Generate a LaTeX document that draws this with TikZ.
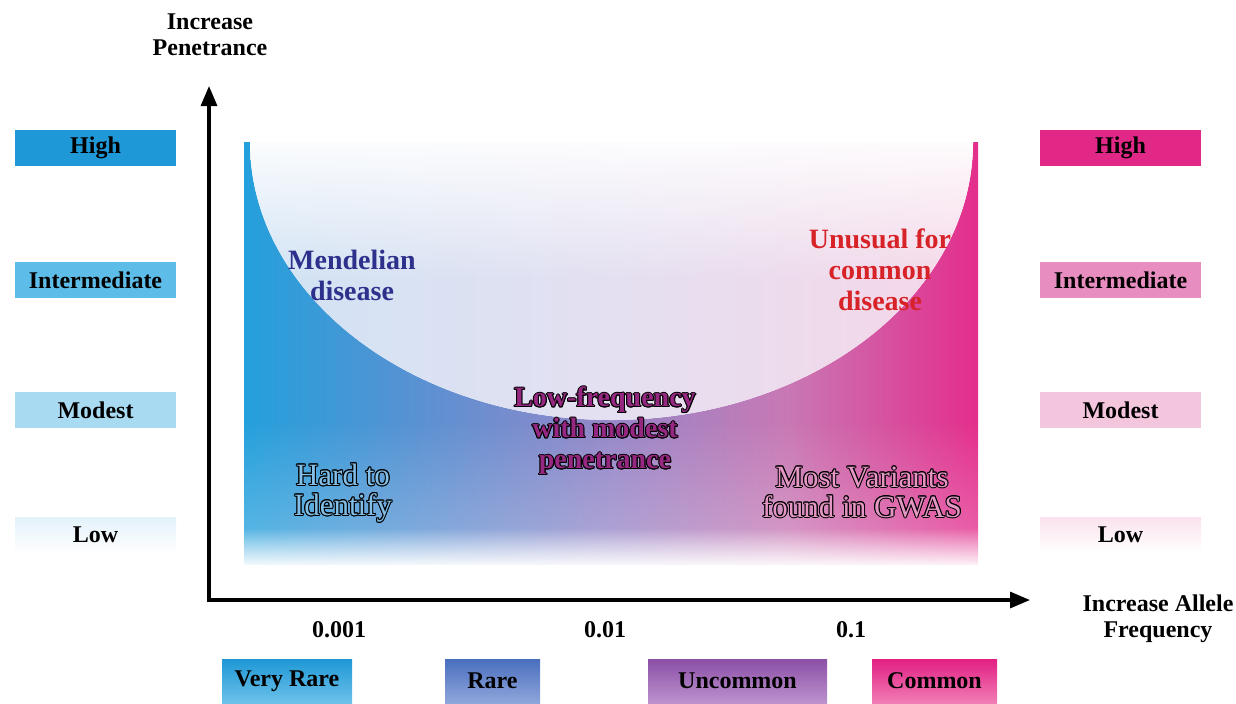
\documentclass[tikz,border=0pt]{standalone}
\usepackage{fontspec}
\setmainfont{Liberation Serif}
\usetikzlibrary{
  calc, % For the outline offsets
  arrows.meta, % For arrow tips
  fadings % For the white fades
}

% Farben
\definecolor{hiblue}{RGB}{30,152,214}
\definecolor{midblue}{RGB}{93,189,232}
\definecolor{modblue}{RGB}{168,218,241}
\definecolor{lowblue}{RGB}{226,242,250}
\definecolor{himag}{RGB}{226,40,135}
\definecolor{midmag}{RGB}{232,141,192}
\definecolor{modmag}{RGB}{244,198,222}
\definecolor{lowmag}{RGB}{251,226,238}
\definecolor{fA}{RGB}{35,160,220}
\definecolor{fB}{RGB}{90,145,210}
\definecolor{fC}{RGB}{150,135,200}
\definecolor{fD}{RGB}{200,120,180}
\definecolor{fE}{RGB}{228,45,140}
\definecolor{bowlL}{RGB}{208,227,244}
\definecolor{bowlM}{RGB}{228,224,241}
\definecolor{bowlR}{RGB}{246,214,231}
\definecolor{navy}{RGB}{46,49,140}
\definecolor{redtxt}{RGB}{215,35,40}
\definecolor{lfcol}{RGB}{150,40,130}
\definecolor{hardfill}{RGB}{130,190,230}
\definecolor{gwasfill}{RGB}{228,150,196}
\definecolor{vrtop}{RGB}{31,151,213}
\definecolor{vrbot}{RGB}{108,194,234}
\definecolor{rtop}{RGB}{74,111,191}
\definecolor{rbot}{RGB}{143,166,218}
\definecolor{utop}{RGB}{140,79,166}
\definecolor{ubot}{RGB}{188,146,206}
\definecolor{ctop}{RGB}{226,31,131}
\definecolor{cbot}{RGB}{241,125,182}

\pgfdeclarehorizontalshading{freqshade}{100bp}{color(0bp)=(fA); color(25bp)=(fA);
  color(37bp)=(fB); color(50bp)=(fC); color(62bp)=(fD); color(75bp)=(fE); color(100bp)=(fE)}
\pgfdeclarehorizontalshading{bowlshade}{100bp}{color(0bp)=(bowlL); color(25bp)=(bowlL);
  color(50bp)=(bowlM); color(75bp)=(bowlR); color(100bp)=(bowlR)}

% Text mit dunklem Rand
\newcommand{\ringtext}[5]{%
  \foreach \ang in {0,30,...,330}
    \node[ring, #4] at ($(#2)+(\ang:0.5pt)$) {#5};
  \node[ring, #4, text=#3] (#1) at (#2) {#5};
}

\begin{document}
\begin{tikzpicture}[
      x=0.5pt, y=-0.5pt, % Pixel grid of the reference
      >={Triangle[length=10pt, width=8pt]}, % Default arrow tip
      axis/.style={line width=1.6pt, <->}, % Style for the two axes
      lvlbox/.style={minimum width=80.5pt, minimum height=18pt, inner sep=0pt,
        font=\bfseries\fontsize{12}{12}\selectfont},
      catbox/.style={minimum height=22pt, inner sep=0pt,
        font=\bfseries\fontsize{12}{12}\selectfont},
      lbl/.style={font=\bfseries\fontsize{12}{13}\selectfont, align=center},
      zone/.style={font=\bfseries\fontsize{14}{15.5}\selectfont, align=center},
      ring/.style={font=\fontsize{15.5}{15}\selectfont, align=center, text=black, inner sep=0pt},
    ]

    \useasboundingbox (0,0) rectangle (1236,703);

    % Koordinaten der Achsen
    \coordinate (O) at (209,600);
    \coordinate (ytip) at (209,86);
    \coordinate (xtip) at (1030,600);

    % Farbige Fläche unter der Kurve
    \shade[shading=freqshade] (244,142) -- (250,142)
      .. controls (250,295.5) and (411.8,420) .. (611.5,420)
      .. controls (811.2,420) and (973,295.5) .. (973,142)
      -- (978,142) -- (978,565) -- (244,565) -- cycle;

    % Helle Schale, oben weiss
    \begin{scope}
      \clip (250,142)
        .. controls (250,295.5) and (411.8,420) .. (611.5,420)
        .. controls (811.2,420) and (973,295.5) .. (973,142) -- cycle;
      \shade[shading=bowlshade] (250,130) rectangle (973,425);
      \fill[white, path fading=south] (240,130) rectangle (985,280);
    \end{scope}

    % Ausblenden nach unten
    \fill[white, fill opacity=0.3, path fading=north] (238,420) rectangle (984,568);
    \fill[white, path fading=north] (238,528) rectangle (984,568);

    % Achsen
    \draw[axis] (ytip) -- (O) -- (xtip);
    \node[lbl] (ylab) at (210,35) {Increase\\Penetrance};
    \node[lbl] (xlab) at (1158,619) {Increase Allele\\Frequency};

    % Penetranz-Stufen links und rechts
    \foreach \lab/\py/\cl/\cr in {High/147.5/hiblue/himag,
        Intermediate/280/midblue/midmag, Modest/410/modblue/modmag}{
      \node[lvlbox, fill=\cl] (L\lab) at (95.5,\py) {\lab};
      \node[lvlbox, fill=\cr] (R\lab) at (1120.5,\py) {\lab};
    }
    \node[lvlbox, top color=lowblue, bottom color=white] (LLow) at (95.5,535) {Low};
    \node[lvlbox, top color=lowmag, bottom color=white] (RLow) at (1120.5,535) {Low};

    % Frequenzwerte
    \foreach \px/\t/\nm in {339/0.001/ta, 605/0.01/tb, 851/0.1/tc}
    \node[lbl] (\nm) at (\px,630) {\t};

    % Frequenzklassen
    \foreach \nm/\lab/\px/\bw/\ct/\cb in {vrare/Very Rare/287/130/vrtop/vrbot,
        rare/Rare/492.5/95/rtop/rbot, uncommon/Uncommon/737.5/179/utop/ubot,
        common/Common/934.5/125/ctop/cbot}
    \node[catbox, minimum width=\bw*0.5pt, top color=\ct, bottom color=\cb] (\nm) at (\px,681) {\lab};

    % Beschriftung der Bereiche
    \node[zone, text=navy] (mendel) at (352,275) {Mendelian\\disease};
    \node[zone, text=redtxt] (unusual) at (880,270) {Unusual for\\common\\disease};
    \ringtext{lowfreq}{605,431}{lfcol}{font=\bfseries\fontsize{14}{15.5}\selectfont}{Low-frequency\\with modest\\penetrance}
    \ringtext{hard}{343,493}{hardfill}{}{Hard to\\Identify}
    \ringtext{gwas}{862,492}{gwasfill}{}{Most Variants\\found in GWAS}
  \end{tikzpicture}
\end{document}
